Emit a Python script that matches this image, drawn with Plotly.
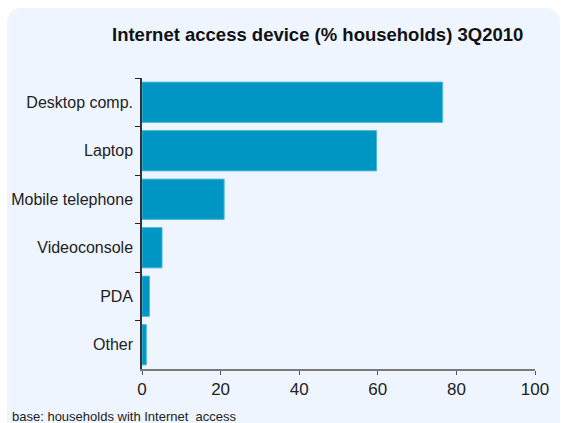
import plotly.graph_objects as go

categories = ["Desktop comp.", "Laptop", "Mobile telephone", "Videoconsole", "PDA", "Other"]
values = [76.5, 59.7, 20.9, 5.1, 1.9, 1.1]
x_ticks = [0, 20, 40, 60, 80, 100]

W, H = 561, 423
L, R, T, B = 142, 26, 78, 54
pw, ph = W - L - R, H - T - B

def px(x):
    return (x - L) / pw

def py(y):
    return (H - B - y) / ph

FONT = "Liberation Sans, Arial, sans-serif"

fig = go.Figure()
fig.add_trace(go.Bar(
    y=categories, x=values, orientation="h",
    marker=dict(color="#0096c3", line=dict(color="#4fb8da", width=1)),
    hoverinfo="x+y",
))

# rounded light-blue panel
x0, x1 = px(7), px(560)
y0, y1 = py(440), py(8)
rx, ry = 16 / pw, 16 / ph
path = (f"M {x0},{y0} L {x0},{y1-ry} Q {x0},{y1} {x0+rx},{y1} "
        f"L {x1-rx},{y1} Q {x1},{y1} {x1},{y1-ry} L {x1},{y0} Z")
fig.add_shape(type="path", path=path, xref="paper", yref="paper",
              fillcolor="#eef5fe", line=dict(width=0), layer="below")

fig.add_annotation(text="<b>Internet access device (% households) 3Q2010</b>",
                   x=px(317), y=py(34), xref="paper", yref="paper",
                   showarrow=False, font=dict(family=FONT, size=18.5, color="#111111"),
                   xanchor="center", yanchor="middle")
fig.add_annotation(text="base: households with Internet  access",
                   x=px(10), y=py(416), xref="paper", yref="paper",
                   showarrow=False, font=dict(family=FONT, size=13, color="#222222"),
                   xanchor="left", yanchor="middle")

fig.update_layout(
    width=W, height=H,
    margin=dict(l=L, r=R, t=T, b=B),
    paper_bgcolor="white", plot_bgcolor="rgba(0,0,0,0)",
    bargap=0.17,
    showlegend=False,
    font=dict(family=FONT, size=16, color="#222222"),
    xaxis=dict(range=[0, 100], tickvals=x_ticks, showgrid=False, zeroline=False,
               showline=True, linecolor="#7a7a7a", linewidth=2,
               ticks="outside", ticklen=4, tickcolor="#555555",
               tickfont=dict(family=FONT, size=17, color="#222222")),
    yaxis=dict(categoryorder="array", categoryarray=categories, autorange="reversed",
               showgrid=False, zeroline=False, showline=True, linecolor="#333333",
               linewidth=1.5, ticks="outside", tickson="boundaries", ticklen=5,
               tickcolor="#222222", ticklabelstandoff=4,
               tickfont=dict(family=FONT, size=16, color="#222222")),
)

fig.write_html("out.html", config={"displayModeBar": False},
               post_script="document.body.style.margin='0';document.body.style.overflow='hidden';")
